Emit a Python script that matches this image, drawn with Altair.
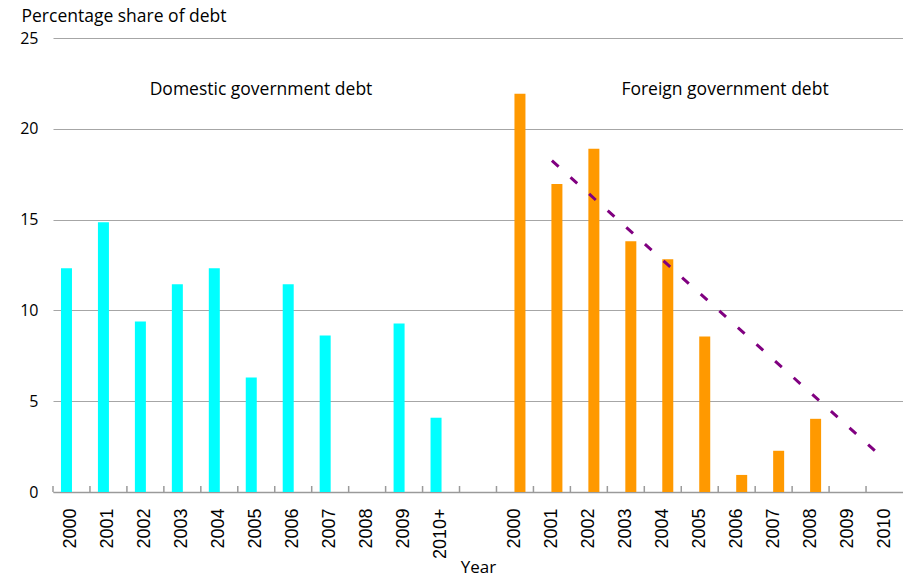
import altair as alt
import pandas as pd

# ---- data ----
dom_years = ["2000", "2001", "2002", "2003", "2004", "2005", "2006", "2007", "2008", "2009", "2010+"]
dom_values = [12.32, 14.86, 9.39, 11.44, 12.32, 6.30, 11.44, 8.62, 0.0, 9.28, 4.09]

for_years = ["2000", "2001", "2002", "2003", "2004", "2005", "2006", "2007", "2008", "2009", "2010"]
for_values = [21.93, 16.96, 18.90, 13.81, 12.82, 8.56, 0.94, 2.27, 4.03, 0.0, 0.0]

trend_years = ["2001", "2010"]
trend_values = [18.25, 1.80]

y_ticks = [0, 5, 10, 15, 20, 25]
panel_titles = ["Domestic government debt", "Foreign government debt"]

# category keys: D = domestic, G = gap, F = foreign
dom_keys = ["D" + y for y in dom_years]
for_keys = ["F" + y for y in for_years]
all_keys = dom_keys + ["G"] + for_keys

dom_df = pd.DataFrame({"cat": dom_keys, "v": dom_values})
for_df = pd.DataFrame({"cat": for_keys, "v": for_values})
trend_df = pd.DataFrame({"cat": ["F" + y for y in trend_years], "v": trend_values})
tick_df = pd.DataFrame({"cat": all_keys})

TITLE_FONT = "Open Sans"
LABEL_FONT = "Liberation Sans"

x_scale = alt.Scale(domain=all_keys, paddingInner=0, paddingOuter=0)
x_axis = alt.Axis(
    title="Year",
    labelExpr="datum.value == 'G' ? '' : substring(datum.value, 1)",
    labelAngle=-90,
    labelFont=LABEL_FONT,
    labelFontSize=18,
    labelColor="#000000",
    labelPadding=16,
    ticks=False,
    tickSize=0,
    grid=False,
    domainColor="#9a9a9a",
    domainWidth=1.5,
    titleFont=TITLE_FONT,
    titleFontSize=17,
    titleFontWeight="normal",
    titleColor="#000000",
    titleBaseline="alphabetic",
    titleY=80,
)
y_scale = alt.Scale(domain=[0, 25], nice=False, zero=True)
y_axis = alt.Axis(
    values=y_ticks,
    title="Percentage share of debt",
    titleAngle=0,
    titleAlign="left",
    titleBaseline="alphabetic",
    titleX=-32,
    titleY=-17,
    titleFont=TITLE_FONT,
    titleFontSize=17.5,
    titleFontWeight="normal",
    titleColor="#000000",
    labelFont=TITLE_FONT,
    labelFontSize=16,
    labelColor="#000000",
    labelPadding=15,
    domain=False,
    ticks=False,
    tickSize=0,
    gridColor="#a6a6a6",
    gridWidth=1.2,
)

def xenc(**kw):
    return alt.X("cat:N", scale=x_scale, axis=x_axis, sort=all_keys, **kw)

def yenc():
    return alt.Y("v:Q", scale=y_scale, axis=y_axis)

bars_dom = alt.Chart(dom_df).mark_bar(width=11, xOffset=-5, color="#00ffff").encode(
    x=xenc(), y=yenc()
)
bars_for = alt.Chart(for_df).mark_bar(width=11, xOffset=5, color="#ff9900").encode(
    x=xenc(), y=yenc()
)
trend = alt.Chart(trend_df).mark_line(
    color="#800080", strokeWidth=3, strokeDash=[9, 16]
).encode(x=xenc(), y=yenc())

ticks = alt.Chart(tick_df).mark_rule(color="#9a9a9a", strokeWidth=1.5).encode(
    x=xenc(bandPosition=0), y=alt.datum(0), y2=alt.datum(0.33)
)

txt_dom = alt.Chart(pd.DataFrame({"t": [panel_titles[0]]})).mark_text(
    font=TITLE_FONT, fontSize=17.5, color="#000000", align="center", baseline="middle"
).encode(x=alt.value(208), y=alt.value(52), text="t:N")
txt_for = alt.Chart(pd.DataFrame({"t": [panel_titles[1]]})).mark_text(
    font=TITLE_FONT, fontSize=17.5, color="#000000", align="center", baseline="middle"
).encode(x=alt.value(672), y=alt.value(52), text="t:N")

chart = alt.layer(bars_dom, bars_for, trend, ticks, txt_dom, txt_for).properties(
    width=850,
    height=454,
    autosize=alt.AutoSizeParams(type="none"),
    padding={"left": 53, "top": 38, "right": 0, "bottom": 95},
    background="#ffffff",
).configure_view(stroke=None)

chart.save("out.html", embed_options={"renderer": "svg", "actions": False})
